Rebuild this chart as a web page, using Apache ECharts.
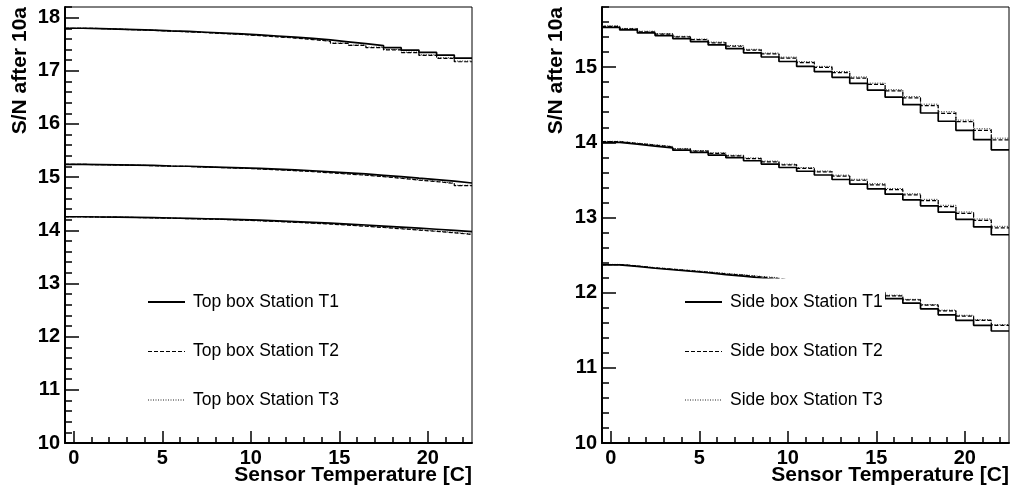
<!DOCTYPE html>
<html>
<head>
<meta charset="utf-8">
<script src="https://cdn.jsdelivr.net/npm/echarts@6/dist/echarts.min.js"></script>
<style>html,body{margin:0;padding:0;background:#fff}#c{width:1013px;height:492px}</style>
</head>
<body>
<div id="c"></div>
<script>
// ---- data ----
const tempBins = [0,1,2,3,4,5,6,7,8,9,10,11,12,13,14,15,16,17,18,19,20,21,22];
const xMajorTicks = [0,5,10,15,20];
const yMajorTicksTop = [10,11,12,13,14,15,16,17,18];
const yMajorTicksSide = [10,11,12,13,14,15];

const topLegend = ['Top box Station T1','Top box Station T2','Top box Station T3'];
const sideLegend = ['Side box Station T1','Side box Station T2','Side box Station T3'];

// Top box (left panel)
const topHiT1 = [17.80,17.795,17.785,17.775,17.765,17.75,17.74,17.725,17.71,17.695,17.675,17.655,17.635,17.61,17.58,17.545,17.51,17.475,17.435,17.39,17.345,17.295,17.24];
const topHiT2 = [17.80,17.795,17.783,17.772,17.761,17.745,17.733,17.717,17.70,17.683,17.661,17.639,17.616,17.588,17.555,17.516,17.477,17.437,17.392,17.341,17.29,17.233,17.17];
const topHiT3 = [17.80,17.795,17.784,17.773,17.762,17.746,17.735,17.719,17.702,17.686,17.664,17.642,17.62,17.592,17.56,17.522,17.484,17.445,17.401,17.351,17.301,17.246,17.184];
const topMidT1 = [15.24,15.235,15.23,15.225,15.22,15.21,15.205,15.195,15.185,15.175,15.165,15.15,15.135,15.12,15.10,15.08,15.06,15.035,15.01,14.98,14.955,14.925,14.89];
const topMidT2 = [15.24,15.235,15.229,15.223,15.217,15.206,15.20,15.189,15.178,15.167,15.155,15.138,15.121,15.104,15.082,15.059,15.036,15.008,14.979,14.945,14.916,14.881,14.84];
const topMidT3 = [15.24,15.235,15.229,15.224,15.218,15.207,15.201,15.19,15.18,15.169,15.157,15.141,15.124,15.107,15.086,15.063,15.04,15.013,14.984,14.951,14.922,14.888,14.847];
const topLoT1 = [14.255,14.25,14.247,14.243,14.238,14.232,14.225,14.218,14.21,14.20,14.19,14.178,14.165,14.15,14.135,14.118,14.10,14.08,14.06,14.04,14.02,14.0,13.975];
const topLoT2 = [14.255,14.25,14.246,14.241,14.235,14.228,14.22,14.212,14.203,14.192,14.18,14.166,14.151,14.134,14.117,14.097,14.076,14.053,14.029,14.005,13.98,13.954,13.922];
const topLoT3 = [14.255,14.25,14.246,14.242,14.236,14.229,14.221,14.213,14.204,14.194,14.182,14.169,14.154,14.137,14.121,14.101,14.08,14.058,14.034,14.011,13.986,13.961,13.93];

// Side box (right panel)
const sideHiT1 = [15.53,15.495,15.455,15.42,15.38,15.34,15.295,15.245,15.19,15.135,15.075,15.01,14.94,14.865,14.785,14.695,14.60,14.50,14.39,14.28,14.16,14.035,13.90];
const sideHiT2 = [15.542,15.509,15.471,15.439,15.402,15.365,15.324,15.278,15.227,15.176,15.121,15.061,14.997,14.928,14.854,14.771,14.683,14.59,14.488,14.386,14.274,14.158,14.032];
const sideHiT3 = [15.548,15.515,15.478,15.446,15.41,15.373,15.333,15.288,15.237,15.187,15.133,15.073,15.01,14.942,14.869,14.787,14.70,14.608,14.507,14.406,14.295,14.18,14.055];
const sideMidT1 = [14.00,13.975,13.95,13.925,13.895,13.865,13.83,13.795,13.755,13.71,13.665,13.615,13.565,13.505,13.445,13.38,13.31,13.235,13.155,13.07,12.975,12.875,12.77];
const sideMidT2 = [14.008,13.985,13.962,13.939,13.911,13.884,13.852,13.82,13.783,13.741,13.699,13.653,13.607,13.551,13.495,13.435,13.37,13.30,13.225,13.145,13.055,12.961,12.862];
const sideMidT3 = [14.013,13.99,13.968,13.945,13.918,13.891,13.86,13.828,13.792,13.75,13.709,13.664,13.618,13.563,13.508,13.449,13.385,13.315,13.241,13.162,13.073,12.98,12.882];
const sideLoT1 = [12.37,12.35,12.325,12.305,12.285,12.265,12.24,12.22,12.195,12.17,12.143,12.113,12.08,12.045,12.008,11.965,11.92,11.86,11.785,11.705,11.63,11.565,11.49];
const sideLoT2 = [12.373,12.354,12.33,12.311,12.292,12.273,12.25,12.232,12.209,12.186,12.161,12.134,12.104,12.072,12.038,11.999,11.958,11.903,11.833,11.758,11.689,11.631,11.564];
const sideLoT3 = [12.376,12.357,12.334,12.315,12.297,12.278,12.256,12.238,12.216,12.198,12.168,12.141,12.111,12.08,12.046,12.007,11.966,11.911,11.842,11.767,11.699,11.641,11.574];

// ---- build ----
const chart = echarts.init(document.getElementById('c'), null, {renderer: 'canvas'});
const FONT = 'Liberation Sans, Arial, Helvetica, sans-serif';

function minorList(a, b, step) {
  const out = [];
  const n = Math.round((b - a) / step);
  for (let i = 0; i <= n; i++) out.push(+(a + i * step).toFixed(6));
  return out;
}
const xMinorTicks = tempBins.slice();
const yMinorTop = minorList(10, 18.2, 0.2);
const yMinorSide = minorList(10, 15.8, 0.2);

function histData(vals) {
  const d = tempBins.map((t, i) => [t - 0.5, vals[i]]);
  const last = tempBins.length - 1;
  d.push([tempBins[last] + 0.5, vals[last]]);
  return d;
}
const styles = [
  {color: '#000', width: 1.7, type: 'solid'},
  {color: '#000', width: 1.2, type: [4, 2]},
  {color: '#222', width: 1, type: [1, 1.5]}
];
function mk(name, vals, k, ai) {
  return {
    type: 'line', name: name, xAxisIndex: ai, yAxisIndex: ai,
    data: histData(vals), step: 'end', symbol: 'none', silent: true,
    lineStyle: {color: styles[k].color, width: styles[k].width, type: styles[k].type},
    z: 2 + (2 - k) * 0.1
  };
}
const series = [];
[[topHiT1, topHiT2, topHiT3], [topMidT1, topMidT2, topMidT3], [topLoT1, topLoT2, topLoT3]].forEach(g => {
  g.forEach((v, k) => series.push(mk(topLegend[k], v, k, 0)));
});
[[sideHiT1, sideHiT2, sideHiT3], [sideMidT1, sideMidT2, sideMidT3], [sideLoT1, sideLoT2, sideLoT3]].forEach(g => {
  g.forEach((v, k) => series.push(mk(sideLegend[k], v, k, 1)));
});

const rects = [
  {left: 65, top: 7, width: 407, height: 436},
  {left: 602, top: 7, width: 407, height: 436}
];
// grids 0,1: main; grids 2,3: overlay for minor ticks
const grids = [
  Object.assign({show: true, borderColor: '#000', borderWidth: 1, backgroundColor: 'transparent'}, rects[0]),
  Object.assign({show: true, borderColor: '#000', borderWidth: 1, backgroundColor: 'transparent'}, rects[1]),
  Object.assign({show: false}, rects[0]),
  Object.assign({show: false}, rects[1])
];
const tickStyle = {color: '#000', width: 1.5};
const hiddenLine = {show: true, onZero: false, lineStyle: {color: '#000', width: 0.01, opacity: 0}};
function xMajor(gi) {
  return {type: 'value', gridIndex: gi, min: -0.5, max: 22.5, position: 'bottom',
    axisLine: {show: true, onZero: false, lineStyle: {color: '#000', width: 2}},
    axisTick: {show: true, inside: true, length: 12, customValues: xMajorTicks, lineStyle: tickStyle},
    axisLabel: {show: true, customValues: xMajorTicks, margin: 5, color: '#000', fontFamily: FONT, fontWeight: 'bold', fontSize: 20},
    splitLine: {show: false}};
}
function xMinor(gi) {
  return {type: 'value', gridIndex: gi, min: -0.5, max: 22.5, position: 'bottom',
    axisLine: hiddenLine,
    axisTick: {show: true, inside: true, length: 6, customValues: xMinorTicks, lineStyle: tickStyle},
    axisLabel: {show: false}, splitLine: {show: false}};
}
function yMajor(gi, max, major) {
  return {type: 'value', gridIndex: gi, min: 10, max: max, interval: 1, position: 'left',
    axisLine: {show: true, onZero: false, lineStyle: {color: '#000', width: 2}},
    axisTick: {show: true, inside: true, length: 14, customValues: major, lineStyle: tickStyle},
    axisLabel: {show: true, customValues: major, margin: 5, color: '#000', fontFamily: FONT, fontWeight: 'bold', fontSize: 20},
    splitLine: {show: false}};
}
function yMinor(gi, max, minor) {
  return {type: 'value', gridIndex: gi, min: 10, max: max, interval: 1, position: 'left',
    axisLine: hiddenLine,
    axisTick: {show: true, inside: true, length: 7, customValues: minor, lineStyle: tickStyle},
    axisLabel: {show: false}, splitLine: {show: false}};
}

function legendGraphic(gx, names) {
  const els = [];
  els.push({type: 'rect', z: 50, shape: {x: gx + 68, y: 278.5, width: 215, height: 147}, style: {fill: '#fff'}, silent: true});
  const ys = [302, 351.5, 400];
  names.forEach((nm, k) => {
    els.push({type: 'line', z: 51, shape: {x1: gx + 83, y1: ys[k], x2: gx + 120, y2: ys[k]},
      style: {stroke: styles[k].color, lineWidth: k === 0 ? 1.8 : 1.2, lineDash: k === 0 ? null : styles[k].type}, silent: true});
    els.push({type: 'text', z: 51, x: gx + 128, y: ys[k],
      style: {text: nm, fill: '#000', font: 'normal 17.5px ' + FONT, textAlign: 'left', textVerticalAlign: 'middle'}, silent: true});
  });
  return els;
}
const titleFont = 'bold 21px ' + FONT;
const graphics = [].concat(
  legendGraphic(65, topLegend),
  legendGraphic(602, sideLegend),
  [
    {type: 'text', z: 60, x: 20, y: 7, rotation: Math.PI / 2,
     style: {text: 'S/N after 10a', fill: '#000', font: titleFont, textAlign: 'right', textVerticalAlign: 'middle'}},
    {type: 'text', z: 60, x: 556, y: 7, rotation: Math.PI / 2,
     style: {text: 'S/N after 10a', fill: '#000', font: titleFont, textAlign: 'right', textVerticalAlign: 'middle'}},
    {type: 'text', z: 60, x: 472, y: 475,
     style: {text: 'Sensor Temperature [C]', fill: '#000', font: titleFont, textAlign: 'right', textVerticalAlign: 'middle'}},
    {type: 'text', z: 60, x: 1009, y: 475,
     style: {text: 'Sensor Temperature [C]', fill: '#000', font: titleFont, textAlign: 'right', textVerticalAlign: 'middle'}}
  ]
);

chart.setOption({
  animation: false,
  backgroundColor: '#fff',
  grid: grids,
  xAxis: [xMajor(0), xMajor(1), xMinor(2), xMinor(3)],
  yAxis: [yMajor(0, 18.2, yMajorTicksTop), yMajor(1, 15.8, yMajorTicksSide), yMinor(2, 18.2, yMinorTop), yMinor(3, 15.8, yMinorSide)],
  series: series,
  graphic: {elements: graphics}
});
</script>
</body>
</html>
